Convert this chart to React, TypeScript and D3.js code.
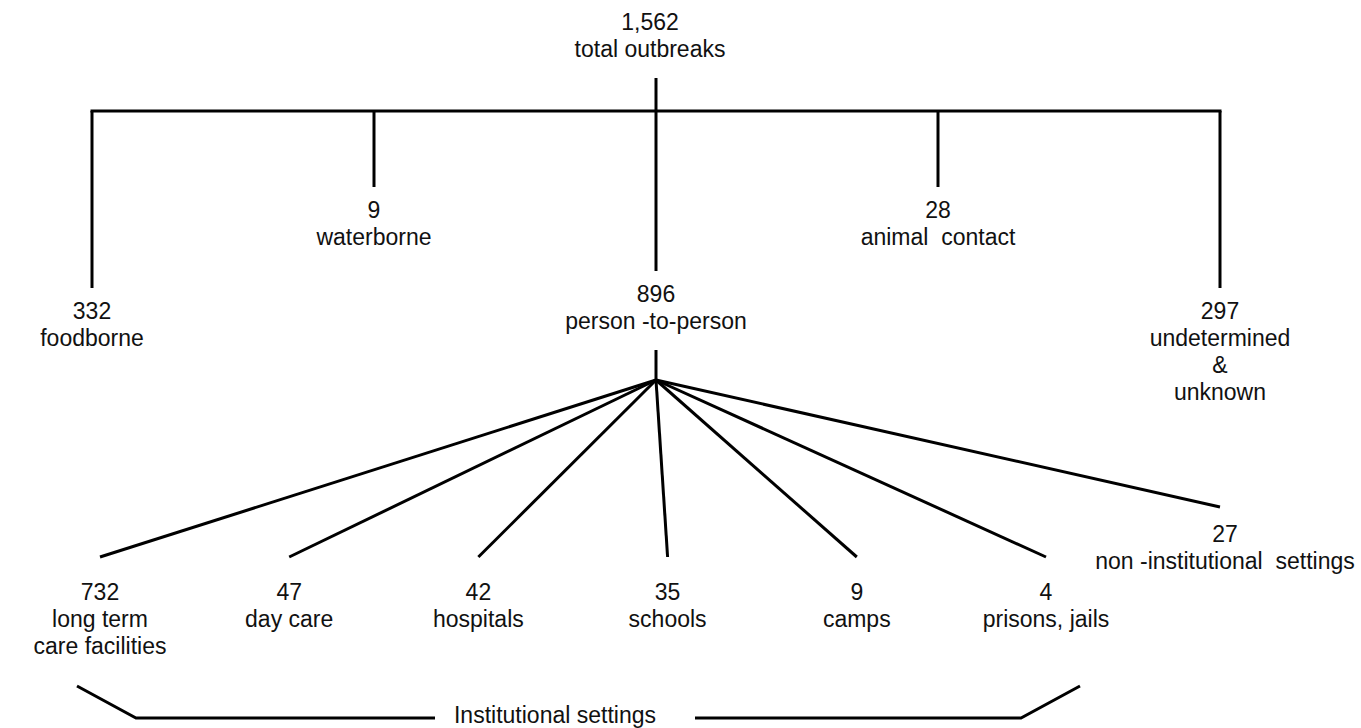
import React from 'react';
import * as d3 from 'd3';

// outbreak counts
const total = 1562;
const totalLabel = ['total outbreaks'];

const routes = ['foodborne', 'waterborne', 'person-to-person', 'animal contact', 'undetermined'];
const routeCounts = [332, 9, 896, 28, 297];
const routeLabels = [
  ['foodborne'],
  ['waterborne'],
  ['person -to-person'],
  ['animal  contact'],
  ['undetermined', '&', 'unknown'],
];

const settings = ['long term', 'day care', 'hospitals', 'schools', 'camps', 'prisons'];
const settingCounts = [732, 47, 42, 35, 9, 4];
const settingLabels = [
  ['long term', 'care facilities'],
  ['day care'],
  ['hospitals'],
  ['schools'],
  ['camps'],
  ['prisons, jails'],
];

const otherCount = 27;
const otherLabel = ['non -institutional  settings'];
const groupLabel = 'Institutional settings';

const fmt = d3.format(',');

const Label: React.FC<{x: number, y: number, count: number, lines: string[]}> = ({x, y, count, lines}) => (
  <text x={x} y={y} textAnchor="middle" style={{whiteSpace: 'pre'}}>
    <tspan x={x} dy={0}>{fmt(count)}</tspan>
    {lines.map((l, i) => <tspan key={i} x={x} dy={27}>{l}</tspan>)}
  </text>
);

const App: React.FC = () => {
  const width = 1361;
  const height = 728;
  const barY = 111;

  const xTop = d3.scalePoint<string>().domain(routes).range([92, 1220]);
  const center = xTop(routes[2]) as number;
  // line end depends on how far a branch sits from the middle one
  const tierEnd = d3.scaleOrdinal<number, number>().domain([0, 1, 2]).range([271, 187, 288]);

  const xLeaf = d3.scalePoint<string>().domain(settings).range([100, 1046]);
  const fanY = 380;
  const leafEndY = 557;
  const leafBase = 600;

  const otherX = xTop(routes[routes.length - 1]) as number;

  const x0 = xLeaf(settings[0]) as number;
  const x1 = xLeaf(settings[settings.length - 1]) as number;
  const bracketY = 718;
  const gapL = 435;
  const gapR = 695;

  const line = d3.line();

  return (
    <>
      <style>{'body{margin:0}'}</style>
      <svg width={width} height={height} style={{display: 'block', background: '#fff'}}
        fontFamily="'Liberation Sans', Arial, Helvetica, sans-serif" fontSize={23} fill="#111">
        {/* root */}
        <Label x={650} y={30} count={total} lines={totalLabel} />
        <g stroke="#000" strokeWidth={3} fill="none">
          <line x1={center} x2={center} y1={78} y2={barY} />
          <line x1={xTop(routes[0])} x2={xTop(routes[routes.length - 1])} y1={barY} y2={barY} strokeLinecap="square" />
          {routes.map((r, i) => (
            <line key={r} x1={xTop(r)} x2={xTop(r)} y1={barY} y2={tierEnd(Math.abs(i - 2))} />
          ))}
          {/* fan from person-to-person */}
          <line x1={center} x2={center} y1={350} y2={fanY} />
          {settings.map(s => (
            <line key={s} x1={center} y1={fanY} x2={xLeaf(s)} y2={leafEndY} />
          ))}
          <line x1={center} y1={fanY} x2={otherX} y2={507} />
          {/* bracket */}
          <path d={line([[x0 - 23, 686], [x0 + 36, bracketY], [gapL, bracketY]]) as string} />
          <path d={line([[gapR, bracketY], [x1 - 25, bracketY], [x1 + 34, 686]]) as string} />
        </g>
        {routes.map((r, i) => (
          <Label key={r} x={xTop(r) as number} y={tierEnd(Math.abs(i - 2)) + 31} count={routeCounts[i]} lines={routeLabels[i]} />
        ))}
        {settings.map((s, i) => (
          <Label key={s} x={xLeaf(s) as number} y={leafBase} count={settingCounts[i]} lines={settingLabels[i]} />
        ))}
        <Label x={otherX + 5} y={542} count={otherCount} lines={otherLabel} />
        <text x={555} y={723} textAnchor="middle">{groupLabel}</text>
      </svg>
    </>
  );
};

export default App;
